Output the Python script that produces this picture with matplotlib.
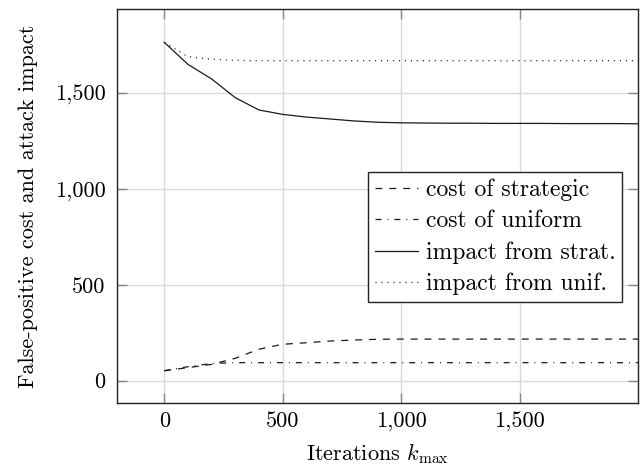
import numpy as np
import matplotlib
matplotlib.use("Agg")
import matplotlib.pyplot as plt

# ---------------------------------------------------------------------------
#  data
# ---------------------------------------------------------------------------
k_max = [0, 100, 200, 300, 400, 500, 600, 700, 800, 900, 1000,
         1100, 1200, 1300, 1400, 1500, 1600, 1700, 1800, 1900, 2000]

cost_strat = [52, 68, 85, 117, 164, 190, 198, 207, 212, 216, 217,
              217, 217, 217, 217, 217, 217, 217, 217, 217, 217]
cost_unif = [52, 73, 90, 94, 94, 94, 94, 94, 94, 94, 94,
             94, 94, 94, 94, 94, 94, 94, 94, 94, 94]
impact_strat = [1765, 1650, 1574, 1476, 1412, 1389, 1375, 1365, 1355, 1348, 1345,
                1344, 1343, 1343, 1342, 1342, 1342, 1341, 1341, 1341, 1340]
impact_unif = [1765, 1690, 1677, 1671, 1669, 1669, 1669, 1669, 1669, 1669, 1669,
               1669, 1669, 1669, 1669, 1669, 1669, 1669, 1669, 1669, 1669]

labels = ["cost of strategic", "cost of uniform",
          "impact from strat.", "impact from unif."]

xticks = [0, 500, 1000, 1500]
xtick_labels = ["0", "500", "1,000", "1,500"]
yticks = [0, 500, 1000, 1500]
ytick_labels = ["0", "500", "1,000", "1,500"]

# ---------------------------------------------------------------------------
#  style (pgfplots look)
# ---------------------------------------------------------------------------
plt.rcParams["font.family"] = "cmr10"
plt.rcParams["mathtext.fontset"] = "cm"
plt.rcParams["axes.formatter.use_mathtext"] = True
plt.rcParams["lines.scale_dashes"] = False
fs = 16

fig = plt.figure(figsize=(6.43, 4.71), dpi=100)
ax = fig.add_axes([0.1817, 0.1437, 0.8106, 0.8365])

lc = "#1a1a1a"
lw = 0.9
ax.plot(k_max, cost_strat, color=lc, lw=lw, dashes=(5, 5), label=labels[0])
ax.plot(k_max, cost_unif, color=lc, lw=lw, dashes=(4.3, 4.3, 0.7, 4.3), label=labels[1])
ax.plot(k_max, impact_strat, color=lc, lw=lw, label=labels[2])
ax.plot(k_max, impact_unif, color=lc, lw=lw, dashes=(0.8, 3.5), label=labels[3])

ax.set_xlim(-200, 2000)
ax.set_ylim(-118, 1937)
ax.set_xticks(xticks)
ax.set_xticklabels(xtick_labels)
ax.set_yticks(yticks)
ax.set_yticklabels(ytick_labels)
ax.tick_params(direction="in", length=7, width=1, color="#888888",
               top=True, right=True, labelsize=fs)
ax.tick_params(axis="x", pad=6)
ax.tick_params(axis="y", pad=8)
ax.grid(True, color="#d9d9d9", lw=1)
ax.set_axisbelow(True)
for s in ax.spines.values():
    s.set_color("#222222")
    s.set_linewidth(1)

ax.set_xlabel(r"Iterations $k_{\max}$", fontsize=fs, labelpad=7)
ax.set_ylabel("False-positive cost and attack impact", fontsize=fs, labelpad=12)

leg = ax.legend(loc="upper right", bbox_to_anchor=(0.970, 0.588),
                borderaxespad=0, fontsize=17, fancybox=False, framealpha=1,
                edgecolor="#222222", handlelength=1.85, labelspacing=0.38,
                handletextpad=0.3, borderpad=0.3)
leg.get_frame().set_linewidth(1)

fig.savefig("out.png", dpi=100)
